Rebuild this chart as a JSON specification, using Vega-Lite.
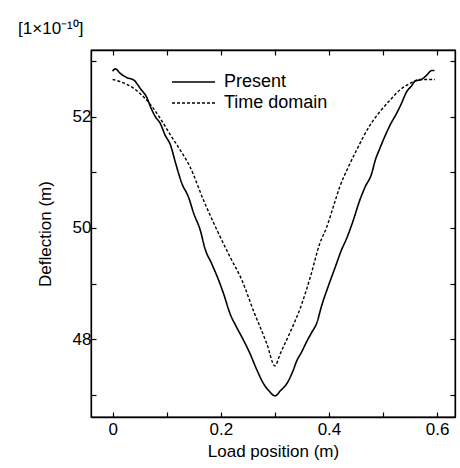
{
  "$schema": "https://vega.github.io/schema/vega-lite/v6.json",
  "autosize": "none",
  "width": 364,
  "height": 367,
  "padding": {"left": 91, "top": 50, "right": 5, "bottom": 51},
  "background": "white",
  "title": {"text": "[1×10⁻¹⁰]", "anchor": "start", "dx": -18, "offset": 11, "font": "Liberation Sans", "fontSize": 17, "fontWeight": "normal", "color": "black"},
  "config": {
    "view": {"stroke": "black", "strokeWidth": 1.3},
    "font": "Liberation Sans",
    "axis": {
      "labelFont": "Liberation Sans", "labelFontSize": 17, "labelColor": "black",
      "titleFont": "Liberation Sans", "titleFontSize": 17, "titleFontWeight": "normal", "titleColor": "black",
      "tickColor": "black", "tickSize": -5, "tickWidth": 1.2, "domainColor": "black", "domainWidth": 1.3, "grid": false
    },
    "legend": {"labelFont": "Liberation Sans", "labelFontSize": 18, "labelColor": "black"}
  },
  "datasets": {
    "present": [
      {"x": 0.000, "y": 52.82, "series": "Present"},
      {"x": 0.005, "y": 52.86, "series": "Present"},
      {"x": 0.014, "y": 52.78, "series": "Present"},
      {"x": 0.027, "y": 52.70, "series": "Present"},
      {"x": 0.039, "y": 52.66, "series": "Present"},
      {"x": 0.051, "y": 52.51, "series": "Present"},
      {"x": 0.064, "y": 52.33, "series": "Present"},
      {"x": 0.070, "y": 52.18, "series": "Present"},
      {"x": 0.079, "y": 52.00, "series": "Present"},
      {"x": 0.088, "y": 51.88, "series": "Present"},
      {"x": 0.097, "y": 51.67, "series": "Present"},
      {"x": 0.107, "y": 51.49, "series": "Present"},
      {"x": 0.116, "y": 51.18, "series": "Present"},
      {"x": 0.128, "y": 50.80, "series": "Present"},
      {"x": 0.140, "y": 50.56, "series": "Present"},
      {"x": 0.150, "y": 50.26, "series": "Present"},
      {"x": 0.162, "y": 49.96, "series": "Present"},
      {"x": 0.171, "y": 49.62, "series": "Present"},
      {"x": 0.183, "y": 49.36, "series": "Present"},
      {"x": 0.196, "y": 49.06, "series": "Present"},
      {"x": 0.205, "y": 48.82, "series": "Present"},
      {"x": 0.217, "y": 48.46, "series": "Present"},
      {"x": 0.230, "y": 48.20, "series": "Present"},
      {"x": 0.242, "y": 47.98, "series": "Present"},
      {"x": 0.254, "y": 47.74, "series": "Present"},
      {"x": 0.267, "y": 47.44, "series": "Present"},
      {"x": 0.279, "y": 47.20, "series": "Present"},
      {"x": 0.290, "y": 47.06, "series": "Present"},
      {"x": 0.300, "y": 46.98, "series": "Present"},
      {"x": 0.311, "y": 47.08, "series": "Present"},
      {"x": 0.322, "y": 47.20, "series": "Present"},
      {"x": 0.333, "y": 47.42, "series": "Present"},
      {"x": 0.340, "y": 47.60, "series": "Present"},
      {"x": 0.350, "y": 47.78, "series": "Present"},
      {"x": 0.359, "y": 47.96, "series": "Present"},
      {"x": 0.368, "y": 48.12, "series": "Present"},
      {"x": 0.377, "y": 48.28, "series": "Present"},
      {"x": 0.387, "y": 48.62, "series": "Present"},
      {"x": 0.399, "y": 48.96, "series": "Present"},
      {"x": 0.411, "y": 49.28, "series": "Present"},
      {"x": 0.423, "y": 49.60, "series": "Present"},
      {"x": 0.433, "y": 49.82, "series": "Present"},
      {"x": 0.445, "y": 50.14, "series": "Present"},
      {"x": 0.457, "y": 50.50, "series": "Present"},
      {"x": 0.467, "y": 50.74, "series": "Present"},
      {"x": 0.479, "y": 50.98, "series": "Present"},
      {"x": 0.485, "y": 51.20, "series": "Present"},
      {"x": 0.494, "y": 51.43, "series": "Present"},
      {"x": 0.503, "y": 51.64, "series": "Present"},
      {"x": 0.513, "y": 51.85, "series": "Present"},
      {"x": 0.525, "y": 52.06, "series": "Present"},
      {"x": 0.534, "y": 52.24, "series": "Present"},
      {"x": 0.543, "y": 52.44, "series": "Present"},
      {"x": 0.553, "y": 52.56, "series": "Present"},
      {"x": 0.559, "y": 52.64, "series": "Present"},
      {"x": 0.571, "y": 52.67, "series": "Present"},
      {"x": 0.580, "y": 52.74, "series": "Present"},
      {"x": 0.590, "y": 52.83, "series": "Present"},
      {"x": 0.595, "y": 52.83, "series": "Present"}
    ],
    "timedomain": [
      {"x": 0.000, "y": 52.67, "series": "Time domain"},
      {"x": 0.020, "y": 52.61, "series": "Time domain"},
      {"x": 0.039, "y": 52.51, "series": "Time domain"},
      {"x": 0.057, "y": 52.36, "series": "Time domain"},
      {"x": 0.073, "y": 52.18, "series": "Time domain"},
      {"x": 0.088, "y": 51.97, "series": "Time domain"},
      {"x": 0.107, "y": 51.67, "series": "Time domain"},
      {"x": 0.125, "y": 51.40, "series": "Time domain"},
      {"x": 0.143, "y": 51.10, "series": "Time domain"},
      {"x": 0.168, "y": 50.50, "series": "Time domain"},
      {"x": 0.193, "y": 49.96, "series": "Time domain"},
      {"x": 0.217, "y": 49.48, "series": "Time domain"},
      {"x": 0.239, "y": 49.06, "series": "Time domain"},
      {"x": 0.260, "y": 48.52, "series": "Time domain"},
      {"x": 0.285, "y": 47.92, "series": "Time domain"},
      {"x": 0.300, "y": 47.52, "series": "Time domain"},
      {"x": 0.310, "y": 47.74, "series": "Time domain"},
      {"x": 0.328, "y": 48.12, "series": "Time domain"},
      {"x": 0.347, "y": 48.56, "series": "Time domain"},
      {"x": 0.365, "y": 49.10, "series": "Time domain"},
      {"x": 0.383, "y": 49.72, "series": "Time domain"},
      {"x": 0.396, "y": 50.02, "series": "Time domain"},
      {"x": 0.408, "y": 50.38, "series": "Time domain"},
      {"x": 0.420, "y": 50.74, "series": "Time domain"},
      {"x": 0.436, "y": 51.10, "series": "Time domain"},
      {"x": 0.451, "y": 51.40, "series": "Time domain"},
      {"x": 0.476, "y": 51.85, "series": "Time domain"},
      {"x": 0.494, "y": 52.09, "series": "Time domain"},
      {"x": 0.513, "y": 52.30, "series": "Time domain"},
      {"x": 0.531, "y": 52.48, "series": "Time domain"},
      {"x": 0.550, "y": 52.60, "series": "Time domain"},
      {"x": 0.568, "y": 52.67, "series": "Time domain"},
      {"x": 0.596, "y": 52.67, "series": "Time domain"}
    ]
  },
  "layer": [
    {
      "data": {"name": "present"},
      "mark": {"type": "line", "color": "black", "strokeWidth": 1.6, "interpolate": "monotone"},
      "encoding": {
        "x": {"field": "x", "type": "quantitative", "scale": {"domain": [-0.04, 0.633], "nice": false, "zero": false},
          "axis": {"orient": "bottom", "title": "Load position (m)", "values": [0, 0.1, 0.2, 0.3, 0.4, 0.5, 0.6],
            "labelExpr": "round(datum.value * 10) % 2 == 0 ? format(datum.value, '~g') : ''", "labelPadding": 9, "titlePadding": 6}},
        "y": {"field": "y", "type": "quantitative", "scale": {"domain": [46.6, 53.2], "nice": false, "zero": false},
          "axis": {"orient": "left", "title": "Deflection (m)", "values": [47, 48, 49, 50, 51, 52, 53],
            "labelExpr": "datum.value % 2 == 0 ? datum.label : ''", "labelPadding": 5, "titlePadding": 18}},
        "strokeDash": {"field": "series", "type": "nominal",
          "scale": {"domain": ["Present", "Time domain"], "range": [[1, 0], [3, 2]]},
          "legend": {"title": null, "orient": "none", "legendX": 80, "legendY": 23, "symbolType": "stroke", "symbolSize": 1849,
            "symbolStrokeColor": "black", "symbolStrokeWidth": 1.4, "labelOffset": 8, "rowPadding": 3, "clipHeight": 18}}
      }
    },
    {
      "data": {"name": "timedomain"},
      "mark": {"type": "line", "color": "black", "strokeWidth": 1.4, "interpolate": "monotone"},
      "encoding": {
        "x": {"field": "x", "type": "quantitative",
          "axis": {"orient": "top", "title": null, "values": [0, 0.1, 0.2, 0.3, 0.4, 0.5, 0.6], "labels": false}},
        "y": {"field": "y", "type": "quantitative",
          "axis": {"orient": "right", "title": null, "values": [47, 48, 49, 50, 51, 52, 53], "labels": false}},
        "strokeDash": {"field": "series", "type": "nominal"}
      }
    }
  ],
  "resolve": {"axis": {"x": "independent", "y": "independent"}}
}
